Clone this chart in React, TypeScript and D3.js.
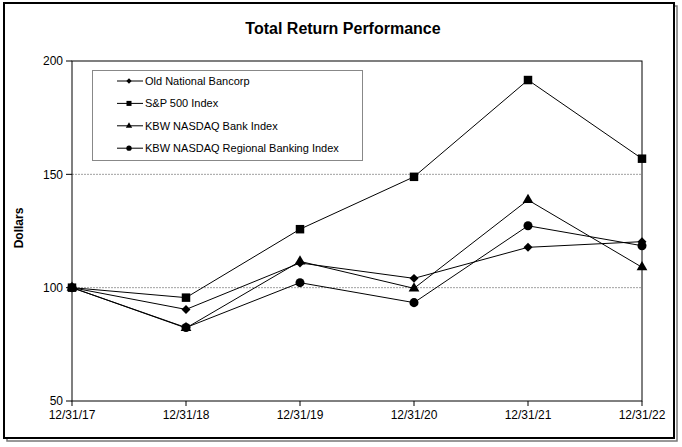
import { line, scaleLinear, scalePoint, symbol, symbolCircle, symbolSquare, symbolTriangle } from 'd3'

const dates = ['12/31/17', '12/31/18', '12/31/19', '12/31/20', '12/31/21', '12/31/22']

const oldNational = [100, 90.4, 110.9, 104.1, 117.8, 120.3]
const sp500 = [100, 95.6, 125.8, 148.9, 191.6, 156.9]
const kbwBank = [100, 82.2, 111.6, 99.7, 138.7, 109.0]
const kbwRegional = [100, 82.4, 102.2, 93.4, 127.3, 118.5]

const seriesNames = [
  'Old National Bancorp',
  'S&P 500 Index',
  'KBW NASDAQ Bank Index',
  'KBW NASDAQ Regional Banking Index',
]

const yTicks = [50, 100, 150, 200]
const gridTicks = [100, 150]

const width = 682
const height = 447
const plot = { left: 72, right: 642, top: 61, bottom: 401 }
const font = '"Liberation Sans", Arial, sans-serif'

// diamond = square turned 45 degrees
const series = [
  { name: seriesNames[0], values: oldNational, shape: symbolSquare, size: 40, rotate: 45 },
  { name: seriesNames[2], values: kbwBank, shape: symbolTriangle, size: 50, rotate: 0 },
  { name: seriesNames[3], values: kbwRegional, shape: symbolCircle, size: 64, rotate: 0 },
  { name: seriesNames[1], values: sp500, shape: symbolSquare, size: 72, rotate: 0 },
]
const legendOrder = [0, 3, 1, 2]

function App() {
  const xScale = scalePoint<string>().domain(dates).range([plot.left, plot.right])
  const yScale = scaleLinear().domain([50, 200]).range([plot.bottom, plot.top])

  const pathFor = line<number>()
    .x((_, i) => xScale(dates[i]) ?? 0)
    .y((v) => yScale(v))

  return (
    <svg
      width={width}
      height={height}
      viewBox={`0 0 ${width} ${height}`}
      style={{ position: 'absolute', left: 0, top: 0, background: '#fff' }}
    >
      {/* outer frame with shadow */}
      <rect x={7} y={6} width={670} height={435} fill="none" stroke="#777" strokeWidth={1.5} />
      <rect x={4} y={3} width={670} height={435} fill="#fff" stroke="#000" strokeWidth={2} />

      <text
        x={343}
        y={34}
        textAnchor="middle"
        fontFamily={font}
        fontWeight="bold"
        fontSize={16}
      >
        Total Return Performance
      </text>

      {gridTicks.map((tick) => (
        <line
          key={`grid-${tick}`}
          x1={plot.left}
          x2={plot.right}
          y1={yScale(tick)}
          y2={yScale(tick)}
          stroke="#888"
          strokeWidth={0.8}
          strokeDasharray="2,1"
        />
      ))}

      <rect
        x={plot.left}
        y={plot.top}
        width={plot.right - plot.left}
        height={plot.bottom - plot.top}
        fill="none"
        stroke="#000"
        strokeWidth={1}
      />

      {yTicks.map((tick) => (
        <g key={`y-${tick}`}>
          <line x1={plot.left - 6} x2={plot.left} y1={yScale(tick)} y2={yScale(tick)} stroke="#000" />
          <text
            x={plot.left - 9}
            y={yScale(tick)}
            dy="0.35em"
            textAnchor="end"
            fontFamily={font}
            fontSize={12}
          >
            {tick}
          </text>
        </g>
      ))}

      {dates.map((d) => (
        <g key={`x-${d}`}>
          <line x1={xScale(d)} x2={xScale(d)} y1={plot.bottom} y2={plot.bottom + 5} stroke="#000" />
          <text
            x={xScale(d)}
            y={plot.bottom + 18}
            textAnchor="middle"
            fontFamily={font}
            fontSize={12}
          >
            {d}
          </text>
        </g>
      ))}

      <text
        transform="translate(23, 228) rotate(-90)"
        textAnchor="middle"
        fontFamily={font}
        fontWeight="bold"
        fontSize={12}
      >
        Dollars
      </text>

      {series.map((s) => (
        <g key={s.name}>
          <path d={pathFor(s.values) ?? ''} fill="none" stroke="#000" strokeWidth={1} />
          {s.values.map((v, i) => (
            <path
              key={`${s.name}-${i}`}
              d={symbol(s.shape, s.size)() ?? ''}
              transform={`translate(${xScale(dates[i])}, ${yScale(v)}) rotate(${s.rotate})`}
              fill="#000"
            />
          ))}
        </g>
      ))}

      {/* legend */}
      <rect x={92.5} y={70.5} width={270} height={90} fill="#fff" stroke="#888" strokeWidth={1} />
      {legendOrder.map((idx, i) => {
        const s = series[idx]
        const y = 81 + i * 22.4
        return (
          <g key={`legend-${s.name}`}>
            <line x1={117} x2={143} y1={y} y2={y} stroke="#000" />
            <path
              d={symbol(s.shape, s.size * 0.35)() ?? ''}
              transform={`translate(129, ${y}) rotate(${s.rotate})`}
              fill="#000"
            />
            <text x={145} y={y} dy="0.35em" fontFamily={font} fontSize={11}>
              {s.name}
            </text>
          </g>
        )
      })}
    </svg>
  )
}

export default App
